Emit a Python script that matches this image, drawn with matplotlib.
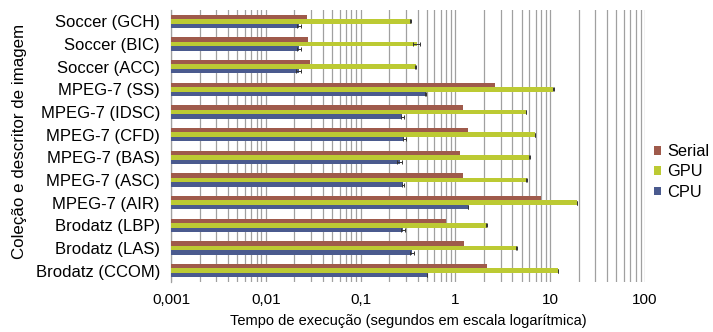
import matplotlib
matplotlib.use("Agg")
import matplotlib.pyplot as plt
import numpy as np
from matplotlib.ticker import LogLocator, NullFormatter

plt.rcParams['font.family'] = ['Liberation Sans', 'DejaVu Sans']

# Categories listed top to bottom as in the chart
categories = ["Soccer (GCH)", "Soccer (BIC)", "Soccer (ACC)", "MPEG-7 (SS)",
              "MPEG-7 (IDSC)", "MPEG-7 (CFD)", "MPEG-7 (BAS)", "MPEG-7 (ASC)",
              "MPEG-7 (AIR)", "Brodatz (LBP)", "Brodatz (LAS)", "Brodatz (CCOM)"]

serial = [0.027, 0.0276, 0.0292, 2.62, 1.21, 1.36, 1.13, 1.21, 8.0, 0.79, 1.24, 2.17]
gpu    = [0.34, 0.39, 0.38, 10.8, 5.56, 6.92, 6.03, 5.65, 19.0, 2.14, 4.44, 12.0]
cpu    = [0.0224, 0.0224, 0.0222, 0.486, 0.275, 0.29, 0.26, 0.28, 1.36, 0.28, 0.35, 0.50]

gpu_err = [0.004, 0.035, 0.004, 0.05, 0.03, 0.03, 0.03, 0.03, 0.05, 0.02, 0.03, 0.05]
cpu_err = [0.001, 0.0012, 0.0015, 0.003, 0.01, 0.012, 0.015, 0.005, 0.005, 0.012, 0.015, 0.004]

series_names = ["Serial", "GPU", "CPU"]
colors = ["#9F5A4B", "#BCCA33", "#4A5A8E"]

xtick_vals = [0.001, 0.01, 0.1, 1, 10, 100]
xtick_labels = ["0,001", "0,01", "0,1", "1", "10", "100"]

fig = plt.figure(figsize=(7.13, 3.32), dpi=100)
ax = fig.add_axes([171/713, 1 - 282/332, (645-171)/713, (282-10)/332])

n = len(categories)
ypos = np.arange(n)[::-1]  # top category at highest y
h = 0.2

ekw = dict(ecolor="#333333", elinewidth=0.7, capsize=1.5, capthick=0.7, zorder=4)
ax.barh(ypos + h, serial, height=h, color=colors[0], label=series_names[0], zorder=3)
ax.barh(ypos, gpu, height=h, color=colors[1], label=series_names[1], zorder=3,
        xerr=gpu_err, error_kw=ekw)
ax.barh(ypos - h, cpu, height=h, color=colors[2], label=series_names[2], zorder=3,
        xerr=cpu_err, error_kw=ekw)

ax.set_xscale("log")
ax.set_xlim(0.001, 100)
ax.set_ylim(-0.5, n - 0.5)

ax.set_xticks(xtick_vals)
ax.set_xticklabels(xtick_labels, fontsize=11)
ax.xaxis.set_minor_locator(LogLocator(base=10, subs=np.arange(2, 10)))
ax.xaxis.set_minor_formatter(NullFormatter())
ax.grid(True, axis="x", which="both", color="#A0A0A0", linewidth=0.9, zorder=0)
ax.tick_params(axis="x", which="both", length=0, pad=8)

ax.set_yticks(ypos)
ax.set_yticklabels(categories, fontsize=12)
ax.tick_params(axis="y", length=0, pad=8)

for s in ["top", "right", "bottom"]:
    ax.spines[s].set_visible(False)
ax.spines["left"].set_color("#A0A0A0")
ax.spines["left"].set_linewidth(0.9)

ax.set_xlabel("Tempo de execução (segundos em escala logarítmica)", fontsize=10.5, labelpad=5)
fig.text(20/713, 1 - 141.5/332, "Coleção e descritor de imagem", rotation=90,
         fontsize=12.2, ha="center", va="center")

leg = fig.legend(loc="center left", bbox_to_anchor=(654/713, 1 - 172/332), frameon=False,
                 fontsize=11.8, handlelength=0.45, handleheight=0.45, handletextpad=0.35,
                 labelspacing=0.32, borderaxespad=0, borderpad=0)

fig.savefig("out.png", dpi=100)
